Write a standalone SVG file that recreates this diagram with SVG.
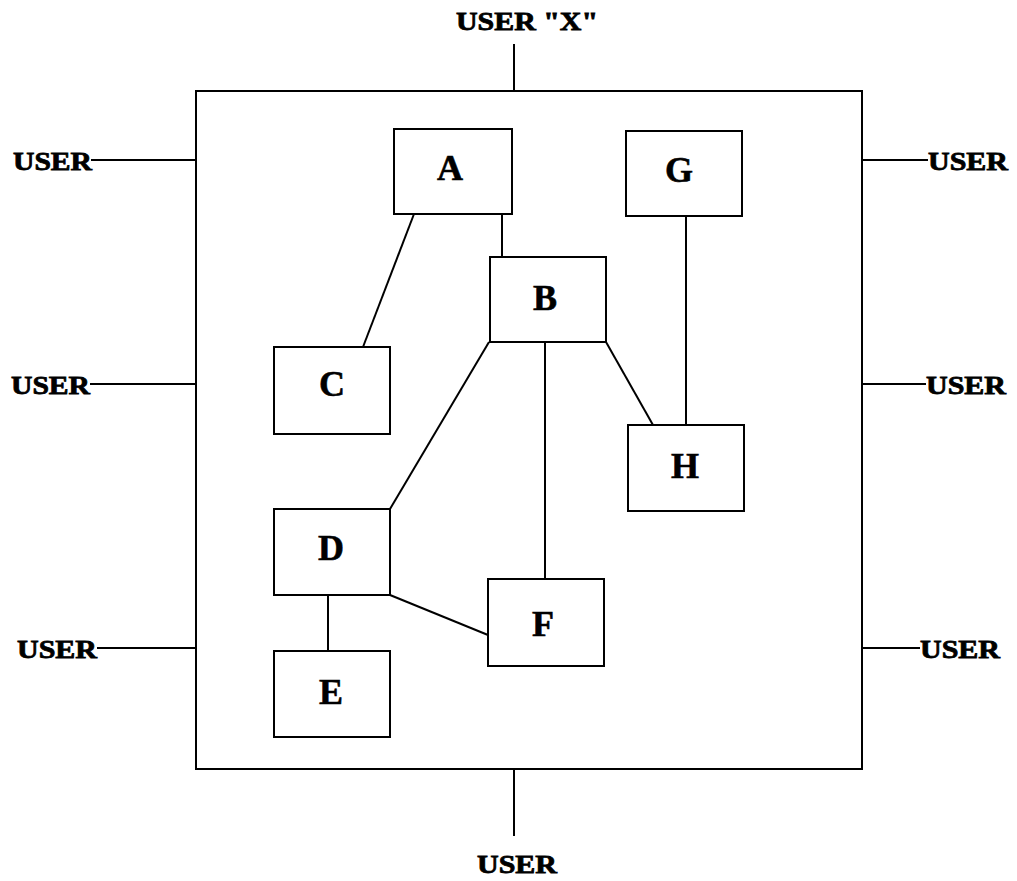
<svg xmlns="http://www.w3.org/2000/svg" width="1017" height="881" viewBox="0 0 1017 881">
<style>
.box{fill:#fff;stroke:#000;stroke-width:2}
.ln{stroke:#000;stroke-width:2;fill:none}
.nl{font-family:"Liberation Serif",serif;font-weight:bold;font-size:36px;text-anchor:middle;fill:#000;stroke:#000;stroke-width:0.6}
.ul{font-family:"Liberation Serif",serif;font-weight:bold;font-size:26px;fill:#000;stroke:#000;stroke-width:0.8}
</style>
<rect width="1017" height="881" fill="#fff"/>
<g id="system"><rect class="box" x="196" y="91" width="666" height="678"/></g>
<g id="connectors">
<line class="ln" x1="514" y1="44" x2="514" y2="91"/>
<line class="ln" x1="514" y1="769" x2="514" y2="836"/>
<line class="ln" x1="91" y1="160" x2="196" y2="160"/>
<line class="ln" x1="90" y1="384" x2="196" y2="384"/>
<line class="ln" x1="97" y1="648" x2="196" y2="648"/>
<line class="ln" x1="862" y1="160" x2="928" y2="160"/>
<line class="ln" x1="862" y1="384" x2="926" y2="384"/>
<line class="ln" x1="862" y1="648" x2="920" y2="648"/>
<line class="ln" x1="502" y1="214" x2="502" y2="257"/>
<line class="ln" x1="414" y1="214" x2="363" y2="347"/>
<line class="ln" x1="686" y1="216" x2="686" y2="425"/>
<line class="ln" x1="606" y1="342" x2="653" y2="425"/>
<line class="ln" x1="545" y1="342" x2="545" y2="579"/>
<line class="ln" x1="489" y1="342" x2="390" y2="509"/>
<line class="ln" x1="328" y1="595" x2="328" y2="651"/>
<line class="ln" x1="390" y1="595" x2="488" y2="635"/>
</g>
<g id="labels">
<text class="ul" x="456" y="30" textLength="142" lengthAdjust="spacingAndGlyphs">USER "X"</text>
<text class="ul" x="13" y="170" textLength="79" lengthAdjust="spacingAndGlyphs">USER</text>
<text class="ul" x="11" y="394" textLength="79" lengthAdjust="spacingAndGlyphs">USER</text>
<text class="ul" x="17" y="658" textLength="80" lengthAdjust="spacingAndGlyphs">USER</text>
<text class="ul" x="928" y="170" textLength="80" lengthAdjust="spacingAndGlyphs">USER</text>
<text class="ul" x="926" y="394" textLength="80" lengthAdjust="spacingAndGlyphs">USER</text>
<text class="ul" x="920" y="658" textLength="80" lengthAdjust="spacingAndGlyphs">USER</text>
<text class="ul" x="477" y="873" textLength="80" lengthAdjust="spacingAndGlyphs">USER</text>
</g>
<g id="A"><rect class="box" x="394" y="129" width="118" height="85"/><text class="nl" x="450" y="180">A</text></g>
<g id="B"><rect class="box" x="490" y="257" width="116" height="85"/><text class="nl" x="545" y="310">B</text></g>
<g id="C"><rect class="box" x="274" y="347" width="116" height="87"/><text class="nl" x="332" y="396">C</text></g>
<g id="D"><rect class="box" x="274" y="509" width="116" height="86"/><text class="nl" x="331" y="560">D</text></g>
<g id="E"><rect class="box" x="274" y="651" width="116" height="86"/><text class="nl" x="331" y="704">E</text></g>
<g id="F"><rect class="box" x="488" y="579" width="116" height="87"/><text class="nl" x="543" y="636">F</text></g>
<g id="G"><rect class="box" x="626" y="131" width="116" height="85"/><text class="nl" x="679" y="182">G</text></g>
<g id="H"><rect class="box" x="628" y="425" width="116" height="86"/><text class="nl" x="685" y="478">H</text></g>
</svg>
